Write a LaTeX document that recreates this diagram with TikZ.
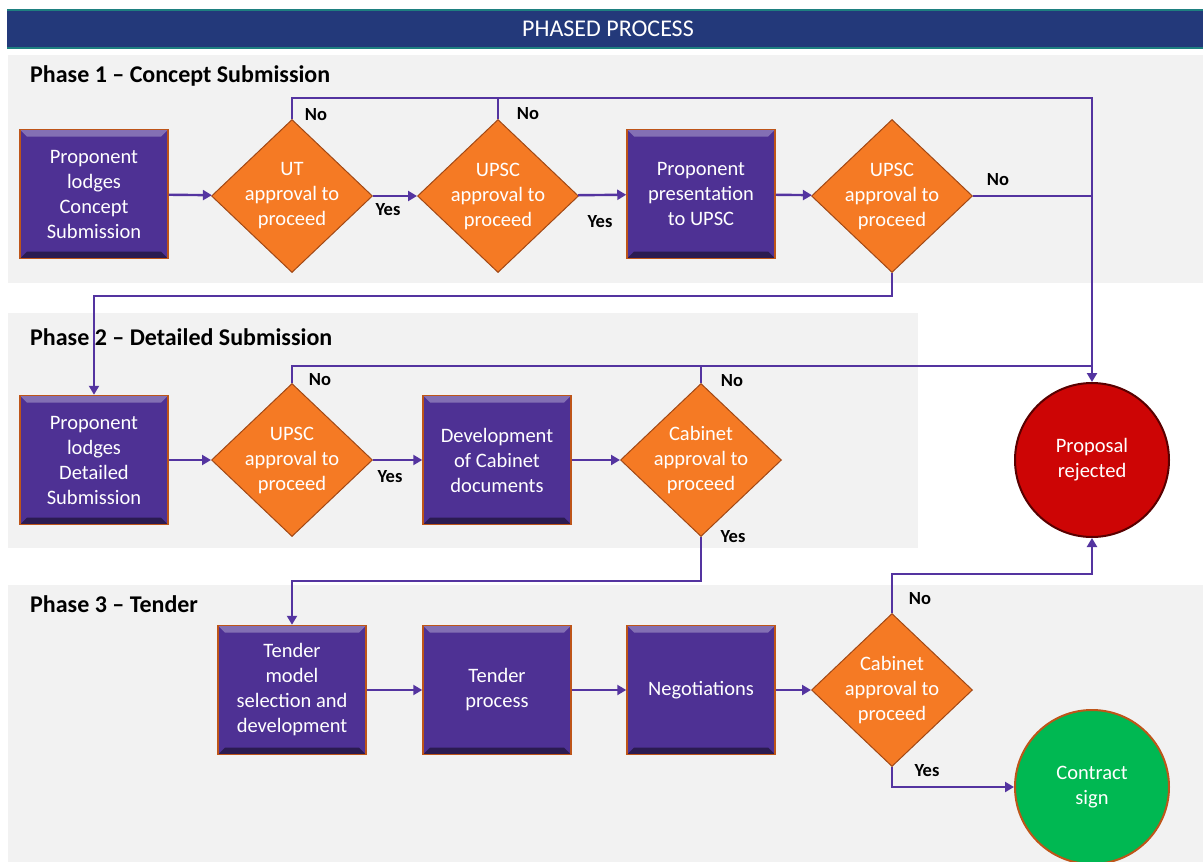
\documentclass[tikz,border=0pt]{standalone}
\usepackage{fontspec}
\setmainfont{Carlito}
\usetikzlibrary{shapes.geometric,arrows.meta}

\definecolor{navy}{RGB}{35,57,122}
\definecolor{tealline}{RGB}{30,128,128}
\definecolor{panel}{RGB}{242,242,242}
\definecolor{purp}{RGB}{78,49,148}
\definecolor{wire}{RGB}{84,52,160}
\definecolor{rim}{RGB}{190,85,25}
\definecolor{orng}{RGB}{245,122,36}
\definecolor{redc}{RGB}{205,5,5}
\definecolor{greenc}{RGB}{0,184,82}

\tikzset{
  process/.style={rectangle,fill=purp,draw=rim,line width=1.5,
    minimum width=148,minimum height=129,align=center,
    text=white,font=\fontsize{20.5}{25}\selectfont,
    path picture={
      \fill [purp!70!white] (path picture bounding box.north west) -- (path picture bounding box.north east)
        -- ([shift={(-7pt,-7pt)}]path picture bounding box.north east) -- ([shift={(7pt,-7pt)}]path picture bounding box.north west) -- cycle;
      \fill [purp!55!black] (path picture bounding box.south west) -- (path picture bounding box.south east)
        -- ([shift={(-7pt,7pt)}]path picture bounding box.south east) -- ([shift={(7pt,7pt)}]path picture bounding box.south west) -- cycle;
    }},
  decision/.style={diamond,aspect=1.05,fill=orng,draw=rim!85!black,line width=1,
    minimum width=161,minimum height=153,inner sep=-4pt,align=center,
    text=white,font=\fontsize{20.5}{25}\selectfont},
  terminal/.style={circle,minimum size=154,line width=2,align=center,
    text=white,font=\fontsize{20.5}{25}\selectfont},
  flow/.style={draw=wire,line width=2.4},
  arr/.style={flow,-{Triangle[length=9pt,width=10pt]}},
  lbl/.style={font=\bfseries\fontsize{18.5}{22}\selectfont,inner sep=0pt},
  phase/.style={anchor=west,font=\bfseries\fontsize{24}{28}\selectfont,inner sep=0pt}
}

\begin{document}
\begin{tikzpicture}[x=1pt,y=-1pt]
\useasboundingbox [fill=white] (0,0) rectangle (1203,862);
% title bar and phase panels
\fill [navy] (7,10) rectangle (1203,48);
\draw [tealline,line width=1.2] (7,10) -- (1203,10) (7,48) -- (1203,48);
\node [text=white,font=\fontsize{24}{28}\selectfont] (title) at (608,29) {PHASED PROCESS};
\fill [panel] (8,55) rectangle (1203,283);
\fill [panel] (8,313) rectangle (918,548);
\fill [panel] (8,585) rectangle (1203,862);
\node [phase] (ph1) at (30,76) {Phase 1 -- Concept Submission};
\node [phase] (ph2) at (30,337) {Phase 2 -- Detailed Submission};
\node [phase] (ph3) at (30,604) {Phase 3 -- Tender};

% phase 1
\node [process] (lodge1) at (94,194) {Proponent\\lodges\\Concept\\Submission};
\node [decision] (ut) at (292,196) {UT\\approval to\\proceed};
\node [decision] (upsc1) at (498,196) {UPSC\\approval to\\proceed};
\node [process] (present) at (701,194) {Proponent\\presentation\\to UPSC};
\node [decision] (upsc2) at (892,196) {UPSC\\approval to\\proceed};

% phase 2
\node [process] (lodge2) at (94,460) {Proponent\\lodges\\Detailed\\Submission};
\node [decision] (upsc3) at (292,460) {UPSC\\approval to\\proceed};
\node [process] (cabdocs) at (497,460) {Development\\of Cabinet\\documents};
\node [decision] (cab1) at (701,460) {Cabinet\\approval to\\proceed};

% phase 3
\node [process] (model) at (292,690) {Tender\\model\\selection and\\development};
\node [process] (tender) at (497,690) {Tender\\process};
\node [process] (negot) at (701,690) {Negotiations};
\node [decision] (cab2) at (892,690) {Cabinet\\approval to\\proceed};

\node [terminal,fill=redc,draw=red!35!black] (reject) at (1092,460) {Proposal\\rejected};
\node [terminal,fill=greenc,draw=rim] (sign) at (1092,787) {Contract\\sign};

\coordinate (notop) at (1092,98);
\coordinate (nomid) at (1092,366);

% connectors
\draw [arr] (lodge1) -- (ut);
\draw [arr] (ut) -- (upsc1);
\draw [arr] (upsc1) -- (present);
\draw [arr] (present) -- (upsc2);
\draw [arr] (ut.north) |- (notop) -- (reject.north);
\draw [flow] (upsc1.north) -- (upsc1.north |- notop);
\draw [flow] (upsc2.east) -- (upsc2.east -| notop);
\draw [arr] (upsc2.south) -- ++(0,23) -| (lodge2.north);
\draw [arr] (lodge2) -- (upsc3);
\draw [arr] (upsc3) -- (cabdocs);
\draw [arr] (cabdocs) -- (cab1);
\draw [flow] (upsc3.north) |- (nomid);
\draw [flow] (cab1.north) -- (cab1.north |- nomid);
\draw [arr] (cab1.south) -- ++(0,44) -| (model.north);
\draw [arr] (model) -- (tender);
\draw [arr] (tender) -- (negot);
\draw [arr] (negot) -- (cab2);
\draw [arr] (cab2.north) -- ++(0,-39) -| (reject.south);
\draw [arr] (cab2.south) |- (sign.west);

% yes / no labels
\node [lbl] (no1) at (316,115) {No};
\node [lbl] (no2) at (528,114) {No};
\node [lbl] (yes1) at (388,210) {Yes};
\node [lbl] (yes2) at (600,222) {Yes};
\node [lbl] (no3) at (998,180) {No};
\node [lbl] (no4) at (320,380) {No};
\node [lbl] (no5) at (732,381) {No};
\node [lbl] (yes3) at (390,477) {Yes};
\node [lbl] (yes4) at (733,537) {Yes};
\node [lbl] (no6) at (920,599) {No};
\node [lbl] (yes5) at (927,771) {Yes};
\end{tikzpicture}
\end{document}
